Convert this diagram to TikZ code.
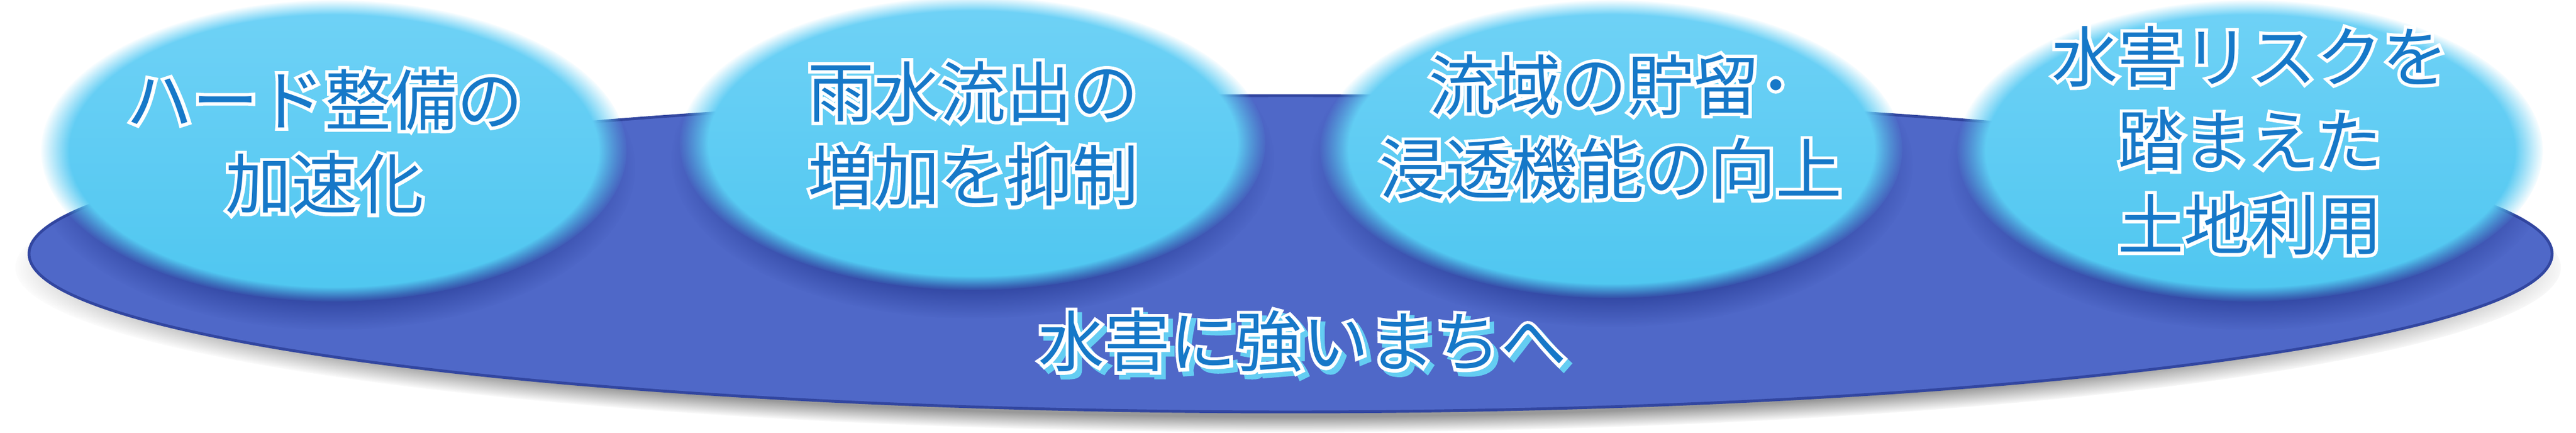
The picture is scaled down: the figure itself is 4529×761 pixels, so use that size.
\documentclass[tikz,border=0pt]{standalone}
\usepackage{fontspec}
\usepackage{tikz}
\usetikzlibrary{fadings}
\newfontfamily\cjk{Noto Sans CJK JP}
\newfontfamily\cjkhalo[FakeBold=10]{Noto Sans CJK JP}
\newcommand{\BubbleStep}{1123}

\definecolor{baseblue}{RGB}{79,104,200}
\definecolor{baseedge}{RGB}{50,70,160}
\definecolor{bubbletop}{RGB}{112,210,246}
\definecolor{bubblebottom}{RGB}{78,198,240}
\definecolor{bubbleshade}{RGB}{40,60,150}
\definecolor{textblue}{RGB}{22,120,200}
\definecolor{textshade}{RGB}{100,205,242}

\tikzset{
  bubble/.style={top color=bubbletop, bottom color=bubblebottom,
    path fading=circle with fuzzy edge 10 percent, fit fading=true},
  bubble shadow/.style={fill=bubbleshade, opacity=0.75,
    path fading=circle with fuzzy edge 20 percent, fit fading=true},
  bubble text/.style={text=textblue, align=center, font=\cjk\fontsize{33}{42}\selectfont},
  bubble halo/.style={text=white, align=center, font=\cjkhalo\fontsize{33}{42}\selectfont},
  goal shade/.style={text=textshade, font=\cjkhalo\fontsize{33}{42}\selectfont}
}

\begin{document}
\begin{tikzpicture}[x=0.01cm, y=-0.01cm]
\useasboundingbox (0,0) rectangle (4529,761);

% base ellipse with its shadow
\fill[black!40, path fading=circle with fuzzy edge 10 percent, fit fading=true]
  (2269,470) ellipse [x radius=2240, y radius=290];
\draw[baseedge, fill=baseblue, line width=1.4pt] (2269,446) ellipse [x radius=2218, y radius=278];

% shadows of the bubbles on the base
\begin{scope}
\clip (2269,446) ellipse [x radius=2218, y radius=278];
\fill[bubble shadow] (587,295) ellipse [x radius=530, y radius=285];
\fill[bubble shadow] (587 + \BubbleStep,280) ellipse [x radius=530, y radius=280];
\fill[bubble shadow] (587 + 2*\BubbleStep,290) ellipse [x radius=530, y radius=285];
\fill[bubble shadow] (587 + 3*\BubbleStep,295) ellipse [x radius=530, y radius=285];
\end{scope}

% bubbles
\shade[bubble] (587,265) ellipse [x radius=515, y radius=265];
\shade[bubble] (587 + \BubbleStep,252) ellipse [x radius=515, y radius=258];
\shade[bubble] (587 + 2*\BubbleStep,262) ellipse [x radius=512, y radius=262];
\shade[bubble] (587 + 3*\BubbleStep,265) ellipse [x radius=515, y radius=265];

% texts
\node[bubble halo] (hardhalo) at (571,249) {ハード整備の\\加速化};
\node[bubble text] (hard) at (571,249) {ハード整備の\\加速化};

\node[bubble halo] (runoffhalo) at (1711,235) {雨水流出の\\増加を抑制};
\node[bubble text] (runoff) at (1711,235) {雨水流出の\\増加を抑制};

\node[bubble halo] (storagehalo) at (2832,223) {流域の貯留･\\浸透機能の向上};
\node[bubble text] (storage) at (2832,223) {流域の貯留･\\浸透機能の向上};

\node[bubble halo] (landusehalo) at (3956,247) {水害リスクを\\踏まえた\\土地利用};
\node[bubble text] (landuse) at (3956,247) {水害リスクを\\踏まえた\\土地利用};

\node[goal shade] (goalshade) at (2298,608) {水害に強いまちへ};
\node[bubble halo] (goalhalo) at (2290,600) {水害に強いまちへ};
\node[bubble text] (goal) at (2290,600) {水害に強いまちへ};

\end{tikzpicture}
\end{document}
